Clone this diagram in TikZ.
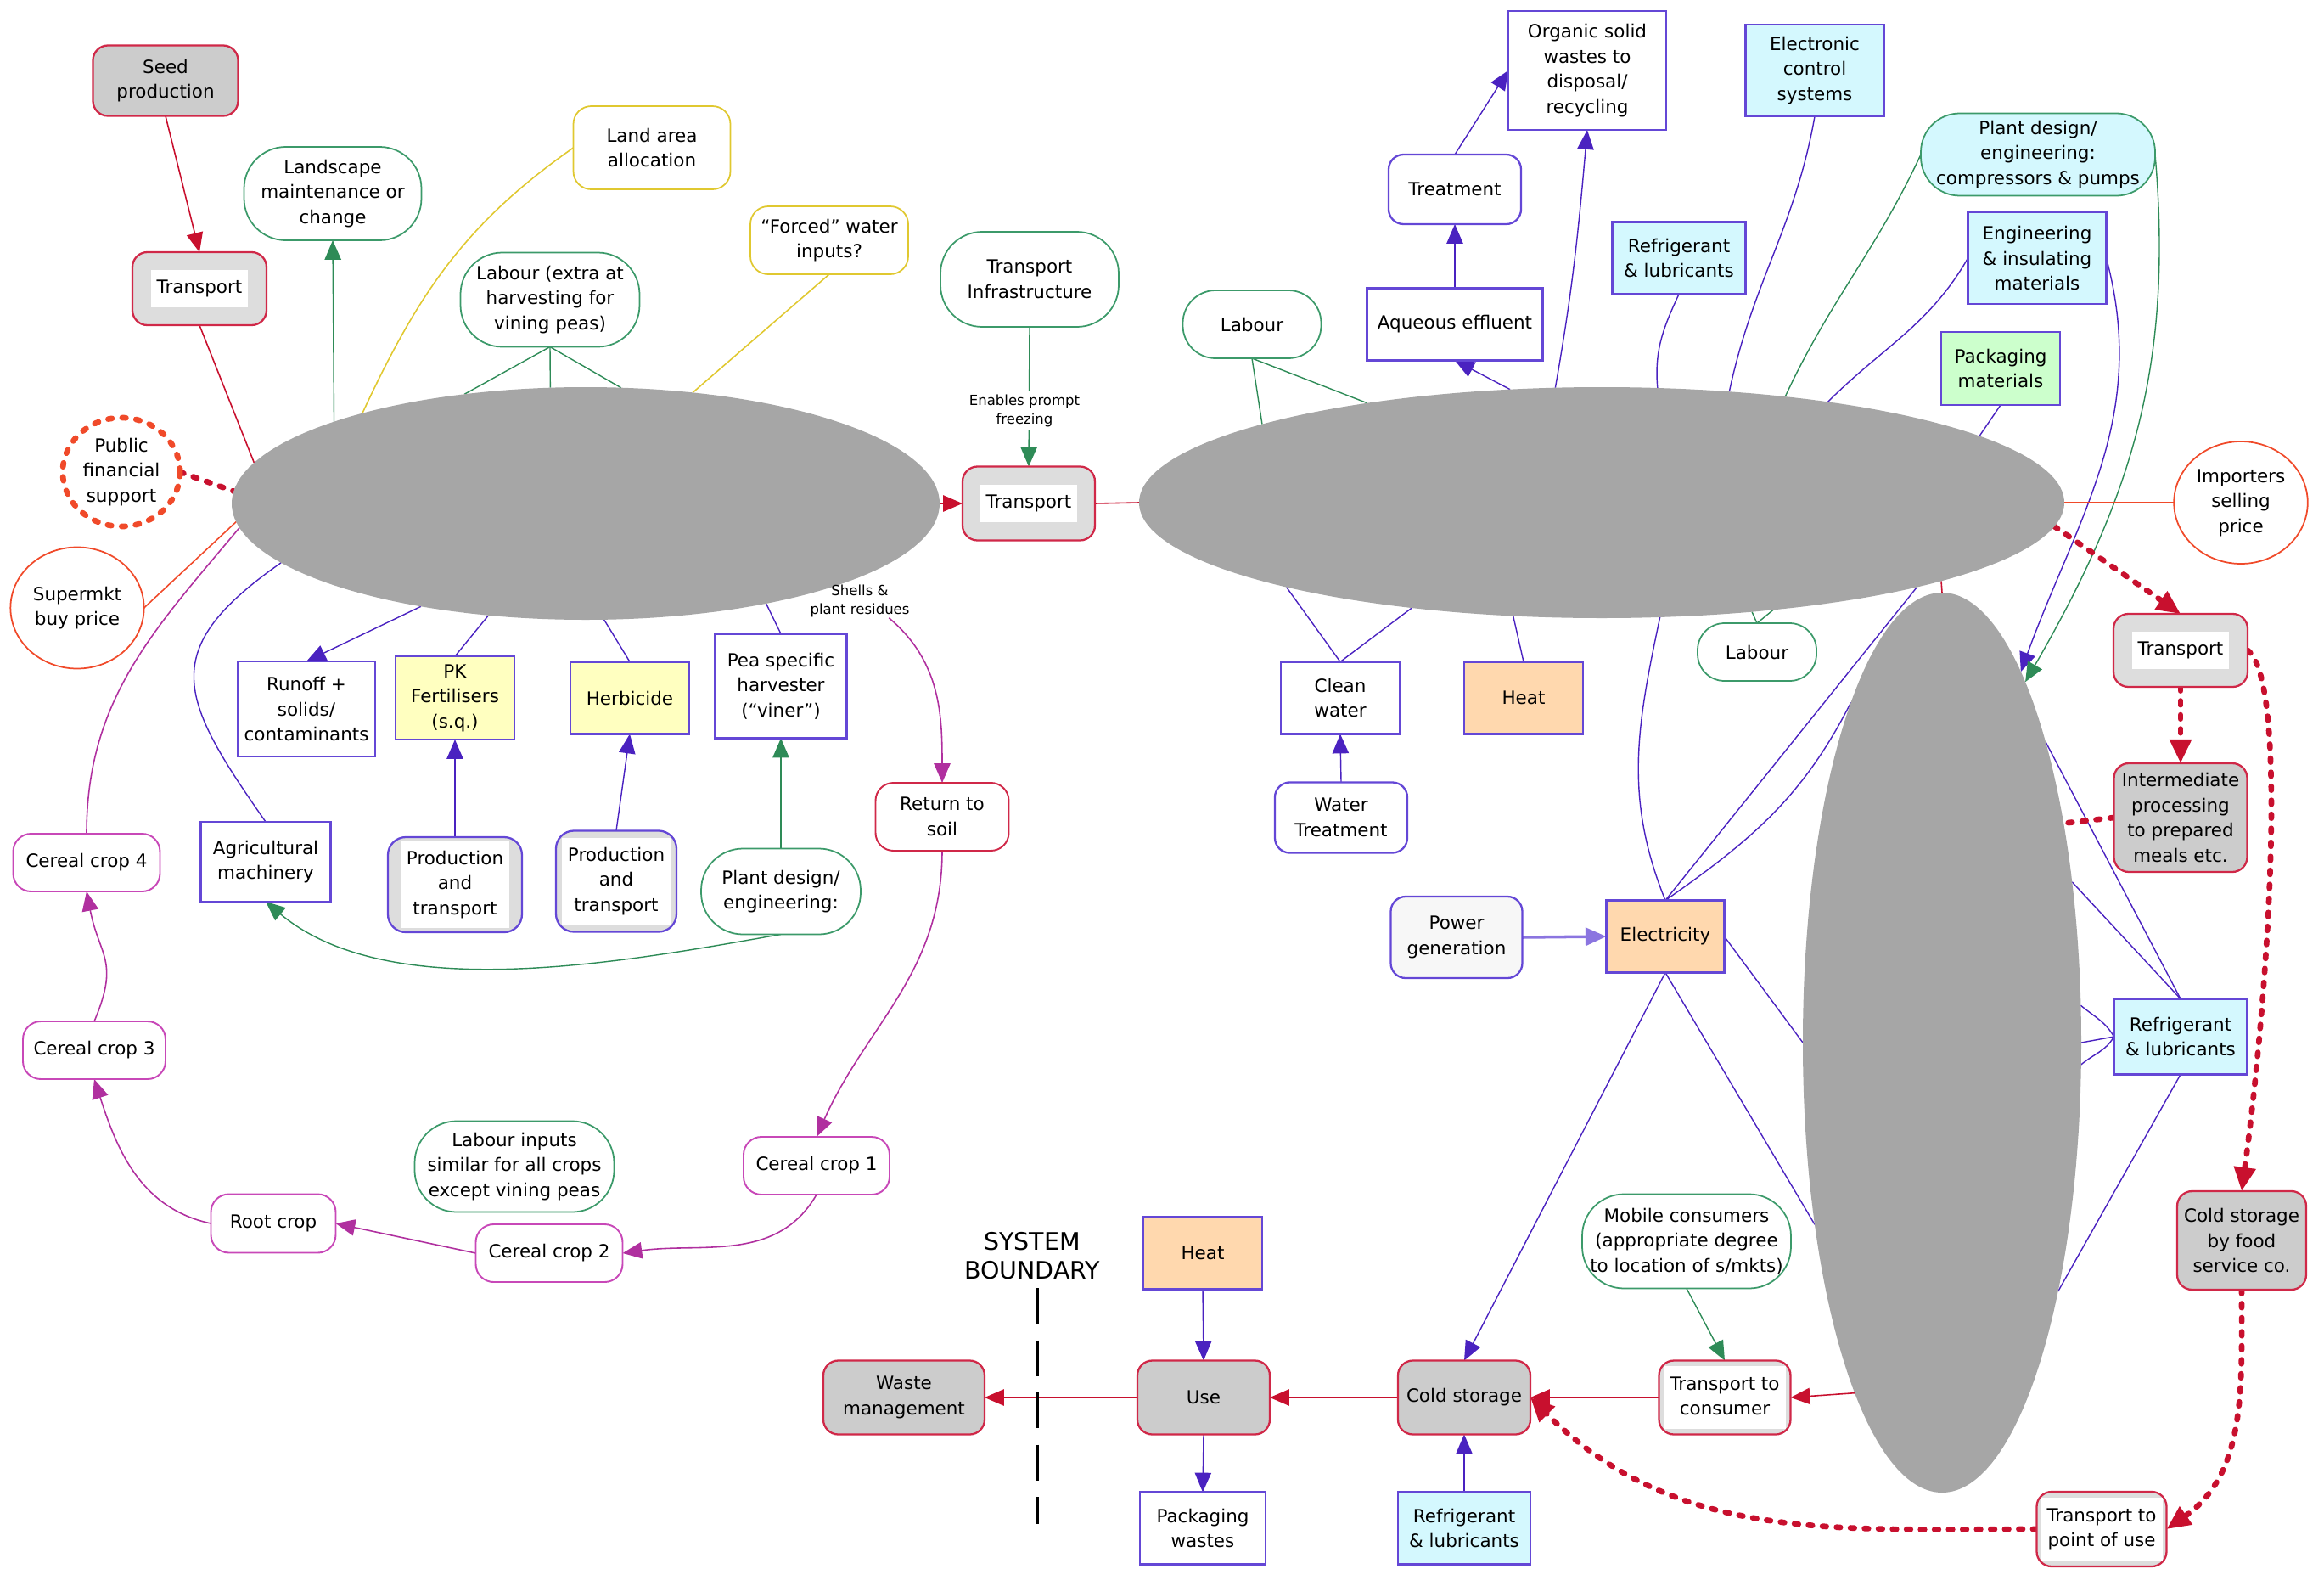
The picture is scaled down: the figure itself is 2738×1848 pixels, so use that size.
\documentclass[tikz,border=0pt]{standalone}
\usepackage{fontspec}
\setmainfont{DejaVu Sans}
\usetikzlibrary{arrows.meta,shapes.geometric,backgrounds}

\definecolor{crim}{HTML}{C8102E}
\definecolor{crimB}{HTML}{D02848}
\definecolor{ored}{HTML}{F04A2A}
\definecolor{purpL}{HTML}{4A22C0}
\definecolor{purpB}{HTML}{6447D6}
\definecolor{grnL}{HTML}{2E8B57}
\definecolor{grnB}{HTML}{3C9A6A}
\definecolor{yelB}{HTML}{E0C830}
\definecolor{magL}{HTML}{B0309F}
\definecolor{magB}{HTML}{C848B8}
\definecolor{gD}{HTML}{CCCCCC}
\definecolor{gL}{HTML}{DDDDDD}
\definecolor{blobG}{HTML}{A6A6A6}
\definecolor{cyanF}{HTML}{D4F8FE}
\definecolor{oranF}{HTML}{FFD8AE}
\definecolor{yelF}{HTML}{FFFFC0}
\definecolor{greF}{HTML}{CCFFCC}
\definecolor{pgF}{HTML}{F7F7F7}

\newcommand\fs{\fontsize{6.1pt}{8.4pt}\selectfont}
\newcommand\fsm{\fontsize{4.7pt}{6.3pt}\selectfont}
\newcommand\fbg{\fontsize{8.1pt}{9.7pt}\selectfont}
% white panel behind the text of the light grey boxes
\newcommand\wb[1]{{\setlength\fboxsep{2pt}\colorbox{white}{\begin{tabular}{@{}c@{}}#1\end{tabular}}}}

\begin{document}
\begin{tikzpicture}[x=0.01cm,y=-0.01cm,
  wh/.style 2 args={minimum width=#1*0.01cm, minimum height=#2*0.01cm},
  nbase/.style={font=\fs, align=center, inner sep=1pt, outer sep=0pt, line width=0.65pt},
  boxD/.style={nbase, draw=crimB, fill=gD, rounded corners=5pt},
  boxL/.style={nbase, draw=crimB, fill=gL, rounded corners=5pt},
  pbox/.style={nbase, draw=purpB, fill=white},
  proc/.style={pbox, rounded corners=5pt},
  ptbox/.style={pbox, fill=gL, rounded corners=6pt},
  cyanbox/.style={pbox, fill=cyanF},
  orbox/.style={pbox, fill=oranF},
  ylbox/.style={pbox, fill=yelF},
  grbox/.style={pbox, fill=greF},
  grnr/.style={nbase, draw=grnB, fill=white, line width=0.5pt, rounded corners=14pt},
  ylr/.style={nbase, draw=yelB, fill=white, line width=0.5pt, rounded corners=6pt},
  magr/.style={nbase, draw=magB, fill=white, line width=0.55pt, rounded corners=6pt},
  redr/.style={nbase, draw=crimB, fill=white, line width=0.55pt, rounded corners=6pt},
  circ/.style={nbase, ellipse, draw=ored, fill=white, line width=0.5pt},
  dotline/.style={line width=1.9pt, dash pattern=on 1.3pt off 3.4pt, line cap=round},
  blob/.style={ellipse, fill=blobG, draw=none, inner sep=0pt, outer sep=0pt},
  tipS/.style={-{Triangle[length=6.5pt,width=5.5pt]}},
  rl/.style={draw=crim, line width=0.45pt},
  ra/.style={rl, tipS},
  pl/.style={draw=purpL, line width=0.4pt},
  pa/.style={pl, tipS},
  pga/.style={draw=purpB!75, line width=1pt, -{Triangle[length=7pt,width=6pt]}},
  gl/.style={draw=grnL, line width=0.4pt},
  ga/.style={gl, tipS},
  ml/.style={draw=magL, line width=0.45pt},
  ma/.style={ml, tipS},
  yl/.style={draw=yelB, line width=0.45pt},
  ol/.style={draw=ored, line width=0.45pt},
  rdot/.style={draw=crim, dotline},
  rdota/.style={rdot, -{Triangle[length=8pt,width=7pt]}},
  sysb/.style={draw=black, line width=1.1pt, dash pattern=on 12pt off 5.5pt}
]
\path[use as bounding box] (0,0) rectangle (2738,1848);

% ---------- field production ----------
\node[boxD, wh={171}{83}] (seed) at (195,95) {Seed\\production};
\node[boxL, wh={158}{86}] (tr1) at (235,340) {\wb{Transport}};
\node[grnr, wh={209}{110}] (lands) at (392,228) {Landscape\\maintenance or\\change};
\node[ylr, wh={185}{98}] (land) at (768,174) {Land area\\allocation};
\node[ylr, wh={186}{80}] (forced) at (977,283) {“Forced” water\\inputs?};
\node[grnr, wh={211}{111}] (lab1) at (648,353) {Labour (extra at\\harvesting for\\vining peas)};
\node[circ, draw=ored, dotline, wh={125}{128}] (pfs) at (143,556) {Public\\financial\\support};
\node[circ, wh={143}{143}] (smk) at (91,716) {Supermkt\\buy price};
\node[blob, wh={834}{274}] (e1) at (690,593) {};
\node[pbox, wh={162}{112}] (runoff) at (361,835) {Runoff +\\solids/\\contaminants};
\node[ylbox, wh={140}{98}] (pk) at (536,822) {PK\\Fertilisers\\(s.q.)};
\node[ylbox, wh={140}{85}] (herb) at (742,822) {Herbicide};
\node[pbox, wh={155}{123}] (viner) at (920,808) {Pea specific\\harvester\\(“viner”)};
\node[pbox, wh={153}{94}] (agri) at (313,1015) {Agricultural\\machinery};
\node[ptbox, wh={158}{112}] (pt1) at (536,1042) {\wb{Production\\and\\transport}};
\node[ptbox, wh={142}{119}] (pt2) at (726,1038) {\wb{Production\\and\\transport}};
\node[grnr, wh={188}{101}] (pd1) at (920,1050) {Plant design/\\engineering:};

% ---------- crop rotation ----------
\node[magr, wh={173}{68}] (cc4) at (102,1016) {Cereal crop 4};
\node[magr, wh={168}{68}] (cc3) at (111,1237) {Cereal crop 3};
\node[magr, wh={147}{69}] (root) at (322,1441) {Root crop};
\node[grnr, wh={235}{107}] (lab4) at (606,1374) {Labour inputs\\similar for all crops\\except vining peas};
\node[magr, wh={172}{68}] (cc1) at (962,1373) {Cereal crop 1};
\node[magr, wh={173}{68}] (cc2) at (647,1476) {Cereal crop 2};
\node[redr, wh={157}{80}] (ret) at (1110,962) {Return to\\soil};
\node[font=\fsm, align=center, inner sep=0pt] (shl) at (1013,708) {Shells \&\\plant residues};

% ---------- transport and freezing ----------
\node[boxL, wh={156}{87}] (tmid) at (1212,593) {\wb{Transport}};
\node[grnr, wh={210}{112}] (tinf) at (1213,329) {Transport\\Infrastructure};
\node[blob, wh={1090}{272}] (e2) at (1887,592) {};
\node[grnr, rounded corners=11pt, wh={163}{80}] (lab2) at (1475,382) {Labour};
\node[pbox, wh={207}{85}] (aq) at (1714,382) {Aqueous effluent};
\node[proc, wh={156}{82}] (treat) at (1714,223) {Treatment};
\node[pbox, wh={186}{140}] (org) at (1870,83) {Organic solid\\wastes to\\disposal/\\recycling};
\node[cyanbox, wh={163}{108}] (ecs) at (2138,83) {Electronic\\control\\systems};
\node[cyanbox, wh={157}{85}] (ref1) at (1978,304) {Refrigerant\\\& lubricants};
\node[grnr, fill=cyanF, rounded corners=13pt, wh={276}{97}] (pdc) at (2401,182) {Plant design/\\engineering:\\compressors \& pumps};
\node[cyanbox, wh={163}{108}] (eng) at (2400,304) {Engineering\\\& insulating\\materials};
\node[grbox, wh={140}{86}] (pack) at (2357,434) {Packaging\\materials};
\node[circ, wh={144}{144}] (imp) at (2640,592) {Importers\\selling\\price};
\node[boxL, wh={158}{86}] (tr3) at (2569,766) {\wb{Transport}};
\node[grnr, rounded corners=9pt, wh={140}{68}] (lab3) at (2070,768) {Labour};
\node[pbox, wh={140}{85}] (cw) at (1579,822) {Clean\\water};
\node[orbox, wh={140}{85}] (heat1) at (1795,822) {Heat};
\node[proc, wh={156}{83}] (wt) at (1580,963) {Water\\Treatment};
\node[proc, fill=pgF, wh={155}{96}] (pg) at (1716,1104) {Power\\generation};
\node[orbox, wh={139}{85}] (elec) at (1962,1103) {Electricity};
\node[boxD, wh={157}{128}] (inter) at (2569,963) {Intermediate\\processing\\to prepared\\meals etc.};
\node[cyanbox, wh={157}{89}] (ref2) at (2569,1221) {Refrigerant\\\& lubricants};
\node[boxD, wh={152}{116}] (csfs) at (2641,1461) {Cold storage\\by food\\service co.};
\node[blob, wh={328}{1060}] (e3) at (2288,1228) {};

% ---------- distribution and use ----------
\node[boxL, wh={153}{88}] (tpu) at (2476,1801) {\wb{Transport to\\point of use}};
\node[boxL, wh={155}{87}] (ttc) at (2032,1646) {\wb{Transport to\\consumer}};
\node[grnr, wh={246}{111}] (mob) at (1987,1462) {Mobile consumers\\(appropriate degree\\to location of s/mkts)};
\node[boxD, wh={156}{87}] (cold) at (1725,1646) {Cold storage};
\node[cyanbox, wh={156}{85}] (ref3) at (1725,1800) {Refrigerant\\\& lubricants};
\node[boxD, wh={156}{87}] (use) at (1418,1646) {Use};
\node[orbox, wh={140}{85}] (heat2) at (1417,1476) {Heat};
\node[pbox, wh={148}{85}] (pw) at (1417,1800) {Packaging\\wastes};
\node[boxD, wh={190}{87}] (waste) at (1065,1646) {Waste\\management};
\node[font=\fbg, align=center, inner sep=0pt] (sb) at (1216,1479) {SYSTEM\\BOUNDARY};
\coordinate (sbtop) at (1222,1517);
\coordinate (sbbot) at (1222,1795);

\node[font=\fsm, align=center, fill=white, inner sep=1pt] (enl) at (1207,484) {Enables prompt\\freezing};

\begin{scope}[on background layer]
% field inputs and outputs
\draw[ra] (seed.south) -- (tr1.north);
\draw[rl] (tr1.south) -- (e1.173.3);
\draw[rdot] (pfs.east) -- (e1.178);
\draw[ol] (smk.east) -- (e1.183.8);
\draw[ga] (e1.162.1) -- (lands.south);
\draw[yl] (land.west) to[out=215,in=65] (e1.158.7);
\draw[yl] (forced.south) -- (e1.46.1);
\draw[gl] (lab1.south) -- (e1.138.6);
\draw[gl] (lab1.south) -- (e1.107.2);
\draw[gl] (lab1.south) -- (e1.73.6);
\draw[pa] (e1.-148.9) -- (runoff.north);
\draw[pl] (pk.north) -- (e1.-131);
\draw[pl] (herb.north) -- (e1.-81.7);
\draw[pl] (viner.north) -- (e1.-29.2);
\draw[pa] (pt1.north) -- (pk.south);
\draw[pa] (pt2.north) -- (herb.south);
\draw[ga] (pd1.north) -- (viner.south);
\draw[ga] (pd1.south) to[out=190,in=-40,looseness=0.8] (agri.south);
\draw[pl] (agri.north) to[out=125,in=215,looseness=1.5] (e1.191.5);
% rotation
\draw[ml] (cc4.north) to[out=90,in=230] (e1.184.4);
\draw[ma] (cc3.north) to[out=67,in=-79,looseness=1.3] (cc4.south);
\draw[ma] (root.west) to[out=168,in=-72] (cc3.south);
\draw[ma] (cc2.west) -- (root.east);
\draw[ma] (cc1.south) to[out=240,in=8] (cc2.east);
\draw[ma] (ret.south) to[out=-90,in=66] (cc1.north);
\draw[ma] (shl.-30) to[out=-40,in=90] (ret.north);
% to the freezing plant
\draw[ra] (e1.east) -- (tmid.west);
\draw[ga] (tinf.south) -- (tmid.north);
\draw[rl] (tmid.east) -- (e2.west);
\draw[gl] (lab2.south) -- (e2.167.8);
\draw[gl] (lab2.south) -- (e2.157.8);
\draw[pa] (e2.129.3) -- (aq.south);
\draw[pa] (aq.north) -- (treat.south);
\draw[pa] (treat.north) -- (org.west);
\draw[pa] (e2.112.5) to[out=80,in=-95] (org.south);
\draw[pl] (ref1.south) to[out=245,in=95] (e2.64.6);
\draw[pl] (ecs.south) to[out=-100,in=78] (e2.41.1);
\draw[gl] (pdc.west) to[out=245,in=65] (e2.30.9);
\draw[pa] (eng.east) to[out=-75,in=70] (e3.78.1);
\draw[ga] (pdc.east) to[out=-85,in=60] (e3.77.3);
\draw[pl] (eng.west) to[out=240,in=45] (e2.24.5);
\draw[pl] (pack.south) -- (e2.10.7);
\draw[ol] (imp.west) -- (e2.east);
\draw[rdota] (e2.-3.6) -- (tr3.north);
\draw[gl] (lab3.north) -- (e2.-36.2);
\draw[gl] (lab3.north) -- (e2.-32.5);
\draw[rl] (e2.-13) -- (e3.north);
\draw[pl] (cw.north) -- (e2.-165.1);
\draw[pl] (cw.north) -- (e2.-151.4);
\draw[pl] (heat1.north) -- (e2.-128.2);
\draw[pa] (wt.north) -- (cw.south);
% electricity supply
\draw[pga] (pg.east) -- (elec.west);
\draw[pl] (elec.north) to[out=112,in=-102] (e2.-63.3);
\draw[pl] (elec.north) -- (e2.-15);
\draw[pl] (elec.north) to[out=35,in=243] (e3.105.9);
\draw[pl] (elec.east) -- (e3.west);
\draw[pa] (elec.south) -- (cold.north);
\draw[pl] (elec.south) -- (e3.235.5);
% refrigerant to the store
\draw[pl] (ref2.west) to[out=120,in=-40] (e3.15.8);
\draw[pl] (ref2.west) -- (e3.0.5);
\draw[pl] (ref2.west) to[out=240,in=40] (e3.-9.7);
\draw[pl] (ref2.north) -- (e3.71);
\draw[pl] (ref2.north) -- (e3.51.2);
\draw[pl] (ref2.south) -- (e3.-65.9);
% food service route
\draw[rdot] (inter.west) -- (e3.61.9);
\draw[rdota] (tr3.south) -- (inter.north);
\draw[rdota] (tr3.east) .. controls (2695,800) and (2675,1150) .. (csfs.north);
\draw[rdota] (csfs.south) to[out=-90,in=35] (tpu.east);
\draw[rdota] (tpu.west) to[out=180,in=-45] (cold.east);
% retail route
\draw[ra] (e3.256.2) -- (ttc.east);
\draw[ra] (ttc.west) -- (cold.east);
\draw[ra] (cold.west) -- (use.east);
\draw[ra] (use.west) -- (waste.east);
\draw[pa] (heat2.south) -- (use.north);
\draw[pa] (use.south) -- (pw.north);
\draw[pa] (ref3.north) -- (cold.south);
\draw[ga] (mob.south) -- (ttc.north);
\draw[sysb] (sbtop) -- (sbbot);
\end{scope}
\end{tikzpicture}
\end{document}
